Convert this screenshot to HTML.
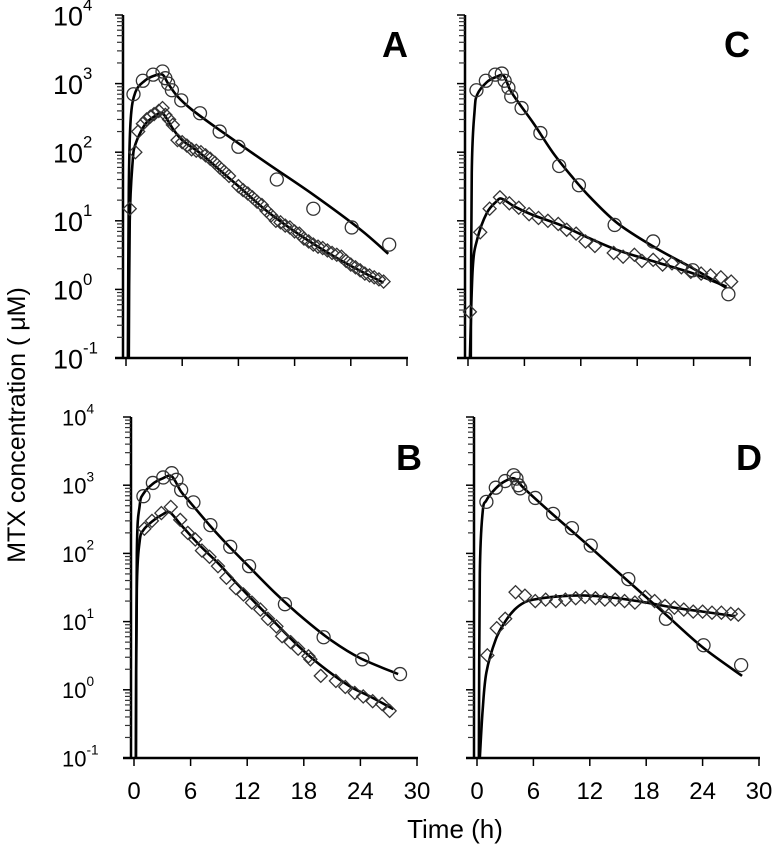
<!DOCTYPE html>
<html><head><meta charset="utf-8"><style>
html,body{margin:0;padding:0;background:#fff;}
svg{display:block;font-family:"Liberation Sans",sans-serif;}
</style></head><body>
<svg id="chart" width="774" height="854" viewBox="0 0 774 854" xmlns="http://www.w3.org/2000/svg">
<text transform="translate(25,425) rotate(-90)" text-anchor="middle" font-size="25">MTX concentration ( μM)</text>
<text x="455" y="838" text-anchor="middle" font-size="26">Time  (h)</text>
</svg>
<script>
// ---- data ----
const xTicks = [0, 6, 12, 18, 24, 30];
const yDecades = [-1, 0, 1, 2, 3, 4];
const panelLetters = ["A", "C", "B", "D"];

const A_circ_t = [0.8,1.8,2.9,3.9,4.2,4.5,4.9,5.9,7.9,10,12,16.1,20,24.1,28.1];
const A_circ_v = [700,1100,1350,1500,1200,1000,800,570,370,200,120,40,15,8,4.5];
const A_circ_fit_t = [0.2,0.3,0.5,1,2,3,3.9,4.5,5.5,7,10,15,20,25,28];
const A_circ_fit_v = [0.1,30,300,750,1100,1300,1350,1000,650,420,210,70,24,7.5,3.3];
const A_diam_t = [0.4,1,1.3,1.8,2.2,2.6,3,3.5,3.9,4.2,4.6,5,5.5,6,6.5,7,7.5,8,8.5,9,9.5,10,10.5,11,12,12.5,13,13.5,14,14.5,15,15.5,16,16.5,17,17.5,18,18.5,19,19.5,20,20.5,21,21.5,22,22.5,23,23.5,24,24.5,25,25.5,26,26.5,27,27.5];
const A_diam_v = [15,100,200,260,300,330,360,400,440,350,300,250,150,140,125,110,105,100,90,80,70,60,52,45,32,28,25,22,19,17,14,12,10,9.5,8.5,8,7,6.5,5.5,5,4.5,4.2,4,3.7,3.4,3.2,3,2.6,2.3,2.1,1.9,1.7,1.6,1.5,1.4,1.3];
const A_diam_fit_t = [0.3,0.4,0.7,1,2,3,3.9,5,6,8,10,12,15,18,21,24,27.5];
const A_diam_fit_v = [0.1,10,70,130,250,330,370,220,150,95,55,32,14,7,3.8,2.2,1.25];

const C_circ_t = [0.9,1.9,2.9,3.6,3.9,4.3,4.6,5.7,7.7,9.7,11.8,15.6,19.7,23.9,27.7];
const C_circ_v = [800,1100,1350,1400,1100,870,650,440,190,63,33,8.7,5,1.9,0.85];
const C_circ_fit_t = [0.3,0.4,0.7,1,2,3,3.8,4.5,5.5,7,9,11,13,16,20,24,27.5];
const C_circ_fit_v = [0.1,50,400,700,1050,1250,1300,800,500,260,100,45,22,9,4,2,1.05];
const C_diam_t = [0.2,1.3,2.3,3.4,4.4,5.4,6.5,7.5,8.5,9.6,10.5,11.5,12.5,13.5,15.5,16.5,17.7,18.5,19.7,20.7,21.7,22.7,23.7,24.8,25.8,26.9,28];
const C_diam_v = [0.47,6.8,15,22,18,15.5,12.5,11,10,9,7.4,6.5,5,4.3,3.4,3,3.2,2.6,2.7,2.3,2.4,2.1,1.8,1.7,1.6,1.5,1.3];
const C_diam_fit_t = [0.2,0.5,1,2,3,3.6,5,7,10,13,16,20,24,27.5];
const C_diam_fit_v = [0.1,2,5.5,13,19,21,16,12,8.5,5.5,3.7,2.5,1.7,1.1];

const B_circ_t = [1,2,3.1,4,4.5,5,6.3,8.1,10.2,12.2,16,20.1,24.2,28.2];
const B_circ_v = [690,1080,1300,1500,1200,850,560,260,125,65,18,5.9,2.8,1.7];
const B_circ_fit_t = [0.2,0.3,0.6,1,2,3,4,5,6,8,10,12,15,18,21,24,28];
const B_circ_fit_v = [0.1,100,500,750,1050,1250,1350,800,550,260,130,68,26,11,5.2,2.9,1.7];
const B_diam_t = [1.1,1.9,2.9,3.9,4.9,5.7,6.5,7.2,8,8.9,9.8,10.8,11.6,12.5,13.4,14.2,15.1,15.7,16.6,17.4,18.5,18.7,19.8,21.4,22.4,23.4,24.3,25.3,26.3,27.1];
const B_diam_v = [230,300,390,480,310,200,160,110,89,65,44,31,25,19,15,11,8.5,6.1,5,4,3.1,2.8,1.6,1.35,1.1,0.9,0.8,0.68,0.62,0.49];
const B_diam_fit_t = [0.2,0.3,0.6,1,2,3,3.8,5,7,9,11,13,15,17,19,21,23,25,27.5];
const B_diam_fit_v = [0.1,30,150,220,300,370,400,260,130,70,35,18,9.5,5,2.8,1.7,1.1,0.8,0.52];

const D_circ_t = [1,2,3,3.9,4.2,4.4,4.6,6.2,8.1,10.1,12.1,16.1,20.1,24.1,28.1];
const D_circ_v = [570,920,1150,1400,1250,1000,900,650,380,235,130,42,11,4.5,2.3];
const D_circ_fit_t = [0.2,0.3,0.6,1,2,3,4,5,8,12,16,20,24,28.2];
const D_circ_fit_v = [0.1,50,400,600,900,1150,1250,900,380,125,40,13,4.2,1.6];
const D_diam_t = [1.1,2.1,3,4.1,5.1,6.2,7.3,8.4,9.4,10.5,11.5,12.6,13.6,14.7,15.7,16.8,17.9,18.9,20,21,22,23,24,25,26,27,27.8];
const D_diam_v = [3.2,8,11,27,24,20,21,20,21,22,23,22,21,21,20,19,23,20,17,16,15,14,14,13.5,13.5,13,12.6];
const D_diam_fit_t = [0.3,0.6,1,2,3,4,5,6,8,10,12,15,18,21,24,27.5];
const D_diam_fit_v = [0.1,0.5,1.8,5.5,10,15,19,21,23,24,24,22,19,16,14,12];

// ---- layout (not data) ----
const panels = [
  {id:"a", x0:126, x30:407, yTop:15, yBot:358, axisX:123, labelFs:27, showX:false, letterX:395, letterY:57,
   series:[[A_circ_t,A_circ_v,"circle"],[A_diam_t,A_diam_v,"diamond"]], fits:[[A_circ_fit_t,A_circ_fit_v],[A_diam_fit_t,A_diam_fit_v]]},
  {id:"c", x0:468, x30:750, yTop:15, yBot:358, axisX:465, labelFs:27, showX:false, letterX:737, letterY:57, noYLabels:true,
   series:[[C_circ_t,C_circ_v,"circle"],[C_diam_t,C_diam_v,"diamond"]], fits:[[C_circ_fit_t,C_circ_fit_v],[C_diam_fit_t,C_diam_fit_v]]},
  {id:"b", x0:134, x30:417, yTop:417, yBot:758, axisX:131, labelFs:22, showX:true, letterX:409, letterY:470,
   series:[[B_circ_t,B_circ_v,"circle"],[B_diam_t,B_diam_v,"diamond"]], fits:[[B_circ_fit_t,B_circ_fit_v],[B_diam_fit_t,B_diam_fit_v]]},
  {id:"d", x0:477, x30:759, yTop:417, yBot:758, axisX:474, labelFs:22, showX:true, letterX:749, letterY:470, noYLabels:true,
   series:[[D_circ_t,D_circ_v,"circle"],[D_diam_t,D_diam_v,"diamond"]], fits:[[D_circ_fit_t,D_circ_fit_v],[D_diam_fit_t,D_diam_fit_v]]}
];
const NS = "http://www.w3.org/2000/svg";
const svg = document.getElementById("chart");
function mk(tag, attrs, parent){const e=document.createElementNS(NS,tag);for(const k in attrs)e.setAttribute(k,attrs[k]);(parent||svg).appendChild(e);return e;}

panels.forEach((p,pi)=>{
  const g = mk("g",{});
  
  
  const xs = t => p.x0 + (t/30)*(p.x30-p.x0);
  const ys = v => p.yTop + (4-Math.log10(v))/5*(p.yBot-p.yTop);
  const cp = mk("clipPath",{id:"clip"+p.id},g);
  mk("rect",{x:p.axisX,y:p.yTop-20,width:p.x30-p.axisX+30,height:p.yBot-p.yTop+20},cp);
  const ya = mk("line",{x1:p.axisX,y1:p.yTop,x2:p.axisX,y2:p.yBot+1,stroke:"#000","stroke-width":2.5},g);
  
  
  const xa = mk("line",{x1:p.axisX-8,y1:p.yBot,x2:p.x30+1,y2:p.yBot,stroke:"#000","stroke-width":2.5},g);
  
  
  yDecades.forEach(d=>{
    const y = ys(Math.pow(10,d));
    mk("line",{x1:p.axisX-8,y1:y,x2:p.axisX,y2:y,stroke:"#000","stroke-width":1.5},g);
    if(d<4){for(let m=2;m<=9;m++){const yy=ys(m*Math.pow(10,d));mk("line",{x1:p.axisX-6,y1:yy,x2:p.axisX,y2:yy,stroke:"#333","stroke-width":1.2},g);}}
    if(!p.noYLabels){
      const fs=p.labelFs;
      const t = mk("text",{x:p.axisX-(fs>24?70:69),y:y+fs*0.38,"font-size":fs},g);
      
      
      t.textContent="10";
      const s = mk("tspan",{dy:-fs*0.55,"font-size":fs*0.62},t);
      s.textContent=String(d);
    }
  });
  xTicks.forEach(v=>{
    const x=xs(v);
    mk("line",{x1:x,y1:p.yBot,x2:x,y2:p.yBot+8,stroke:"#000","stroke-width":1.5},g);
    if(p.showX){
      const t=mk("text",{x:x,y:p.yBot+41,"text-anchor":"middle","font-size":24},g);
      
      
      t.textContent=String(v);
    }
  });
  p.fits.forEach((f,fi)=>{
    const pts=f[0].map((t,i)=>[xs(t),ys(f[1][i])]);
    let d="M"+pts[0][0]+","+pts[0][1];
    for(let i=0;i<pts.length-1;i++){
      const p0=pts[Math.max(0,i-1)],p1=pts[i],p2=pts[i+1],p3=pts[Math.min(pts.length-1,i+2)];
      const c1=[p1[0]+(p2[0]-p0[0])/6,p1[1]+(p2[1]-p0[1])/6];
      const c2=[p2[0]-(p3[0]-p1[0])/6,p2[1]-(p3[1]-p1[1])/6];
      d+=" C"+c1[0]+","+c1[1]+" "+c2[0]+","+c2[1]+" "+p2[0]+","+p2[1];
    }
    const path=mk("path",{d:d,fill:"none",stroke:"#000","stroke-width":2.6,"clip-path":"url(#clip"+p.id+")"},g);
    
    
  });
  p.series.forEach(s=>{
    s[0].forEach((t,i)=>{
      const x=xs(t),y=ys(s[1][i]);
      let m;
      if(s[2]==="circle"){
        m=mk("circle",{cx:x,cy:y,r:6.5,fill:"none",stroke:"#333","stroke-width":1.3},g);
        
      } else {
        m=mk("polygon",{points:`${x},${y-6.5} ${x+6.5},${y} ${x},${y+6.5} ${x-6.5},${y}`,fill:"none",stroke:"#333","stroke-width":1.3},g);
        
      }
      
    });
  });
  const L=mk("text",{x:p.letterX,y:p.letterY,"text-anchor":"middle","font-size":36,"font-weight":"bold"},g);
  
  
  L.textContent=panelLetters[pi];
});
</script>
</body></html>
